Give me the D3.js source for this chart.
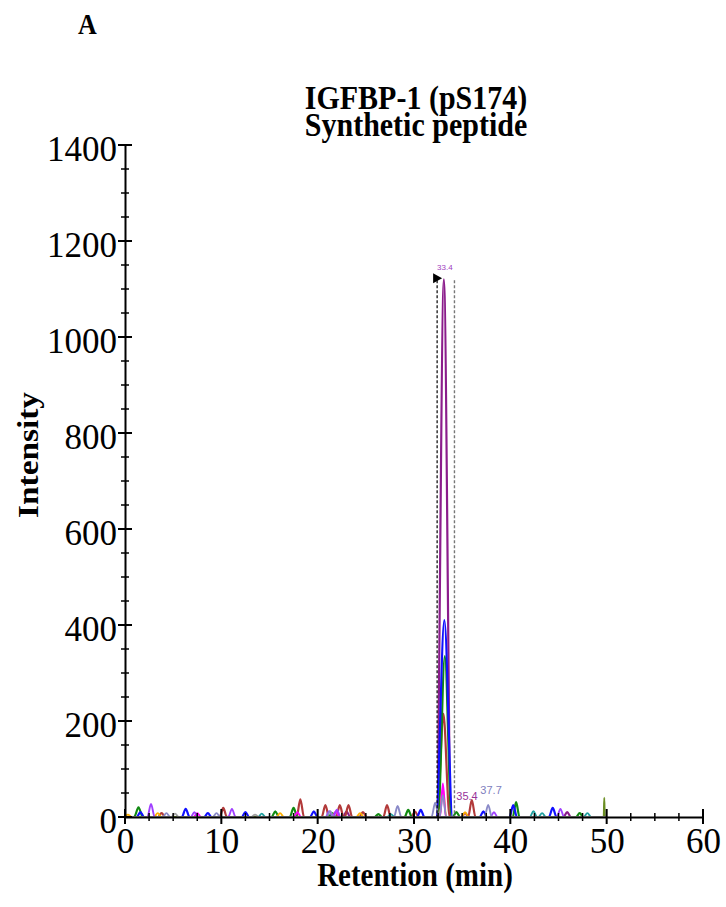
<!DOCTYPE html>
<html><head><meta charset="utf-8">
<script src="https://cdn.jsdelivr.net/npm/d3@7"></script>
<style>body{margin:0;background:#fff}svg{display:block}</style>
</head><body><svg id="c" width="726" height="907"></svg>
<script>
// ---- data: peaks as [retention (min), intensity, half-width (min)] ----
const purplePeaks   = [[33.1,1120,0.75],[23.0,12,0.38],[35.3,8,0.38],[45.9,10,0.38]];
const bluePeaks     = [[33.15,410,0.85],[1.6,10,0.38],[6.3,17,0.4],[8.6,8,0.38],[12.5,10,0.38],[19.6,12,0.38],[30.7,15,0.38],[37.2,12,0.38],[40.3,25,0.38],[44.4,19,0.4]];
const greenPeaks    = [[33.2,335,0.7],[1.4,20,0.45],[15.6,12,0.38],[17.5,19,0.4],[21.5,8,0.38],[26.3,6,0.38],[29.4,15,0.38],[34.4,10,0.38],[40.6,31,0.35],[47.2,8,0.38]];
const brownPeaks    = [[33.05,215,0.65],[3.8,8,0.38],[10.2,19,0.38],[18.2,37,0.38],[20.8,25,0.38],[22.3,25,0.38],[23.2,25,0.38],[24.7,10,0.38],[27.2,25,0.38],[30.1,12,0.38],[36.0,35,0.38]];
const orangePeaks   = [[33.0,60,0.35],[0.3,5,0.38],[3.4,8,0.38],[16.1,8,0.38],[24.4,8,0.38],[35.3,10,0.38]];
const magentaPeaks  = [[33.0,70,0.3],[7.5,8,0.38],[17.9,10,0.38],[21.9,12,0.38]];
const violetPeaks   = [[2.7,27,0.38],[7.2,10,0.38],[11.1,17,0.38],[21.2,12,0.38],[22.0,15,0.38],[38.3,10,0.38],[45.2,17,0.38]];
const lavenderPeaks = [[33.0,45,0.35],[4.3,8,0.38],[9.5,8,0.38],[21.3,12,0.38],[28.3,23,0.38],[32.2,30,0.38],[37.7,25,0.38]];
const tealPeaks     = [[14.2,7,0.38],[27.6,6,0.38],[42.4,12,0.38],[43.3,8,0.38],[48.0,8,0.38]];
const olivePeaks    = [[49.75,40,0.06]];
const greyPeaks     = [[5.2,7,0.38],[13.5,5,0.38]];

const seriesNames  = ["purple","brown","green","blue","orange","magenta","violet","lavender","teal","olive","grey"];
const seriesColors = ["#8b1c8b","#b23a3a","#118a11","#1010ff","#ffb000","#ff00ff","#a040ff","#8a8ac8","#20a0a0","#6b8e23","#a0a0a0"];
const seriesPeaks  = [purplePeaks,brownPeaks,greenPeaks,bluePeaks,orangePeaks,magentaPeaks,violetPeaks,lavenderPeaks,tealPeaks,olivePeaks,greyPeaks];

const xTicks = [0,10,20,30,40,50,60];
const yTicks = [0,200,400,600,800,1000,1200,1400];
const peakLabels = [["33.4",33.2,1140,"#a040c0"],["35.4",35.5,36,"#993399"],["37.7",38.0,48,"#8080c0"]];
const windowStart = 32.4, windowEnd = 34.2, windowTop = 1118;
const runEnd = 50;

// ---- drawing ----
const svg = d3.select("#c");
const x = d3.scaleLinear().domain([0,60]).range([125,703]);
const y = d3.scaleLinear().domain([0,1400]).range([817,145]);
const serif = "'Liberation Serif','Times New Roman',serif";

function tallText(cx, by, size, txt, anchor){
  svg.append("text").attr("transform",`translate(${cx},${by}) scale(1,1.15)`)
    .attr("text-anchor",anchor||"middle").attr("font-family",serif)
    .attr("font-weight","bold").attr("font-size",size).text(txt);
}
tallText(78,34,26,"A","start");
tallText(416,109,30,"IGFBP-1 (pS174)");
tallText(416,136,30,"Synthetic peptide");
tallText(415,886,29,"Retention (min)");
svg.append("text").attr("transform","translate(38,455) rotate(-90) scale(1.15,1)").attr("text-anchor","middle")
  .attr("font-family",serif).attr("font-weight","bold").attr("font-size",29).text("Intensity");

// traces
const line = d3.line().x(d=>x(d[0])).y(d=>y(d[1])).curve(d3.curveMonotoneX);
seriesPeaks.forEach((peaks,i)=>{
  const pts = [[0,0]];
  peaks.slice().sort((a,b)=>a[0]-b[0]).forEach(p=>{
    pts.push([p[0]-p[2],0],[p[0],p[1]],[p[0]+p[2],0]);
  });
  pts.push([runEnd,0]);
  svg.append("path").datum(pts).attr("d",line).attr("fill","none")
    .attr("stroke",seriesColors[i]).attr("stroke-width",i<4?2.2:1.9)
    .attr("class","trace-"+seriesNames[i]);
});

// integration window
svg.append("line").attr("x1",x(windowStart)).attr("x2",x(windowStart)).attr("y1",y(windowTop)).attr("y2",y(0))
  .attr("stroke","#000").attr("stroke-width",1.2).attr("stroke-dasharray","3,2");
svg.append("line").attr("x1",x(windowEnd)).attr("x2",x(windowEnd)).attr("y1",y(windowTop)).attr("y2",y(0))
  .attr("stroke","#777").attr("stroke-width",1.4).attr("stroke-dasharray","3,2");
const tx = x(windowStart), ty = y(windowTop)-2;
svg.append("path").attr("d",`M${tx-4},${ty-5}L${tx+5},${ty}L${tx-4},${ty+5}Z`).attr("fill","#000");

peakLabels.forEach(l=>{
  svg.append("text").attr("x",x(l[1])).attr("y",y(l[2])).attr("text-anchor","middle")
    .attr("font-family","'Liberation Sans',Arial,sans-serif").attr("font-size",l[0]==="33.4"?8:11)
    .attr("fill",l[3]).text(l[0]);
});

// axes
const yAxis = svg.append("g").attr("transform",`translate(${x(0)},0)`)
  .call(d3.axisLeft(y).tickValues(yTicks).tickSize(0).tickPadding(8).tickFormat(d3.format("d")));
yAxis.select(".domain").attr("stroke","#000").attr("stroke-width",2);
yAxis.selectAll("text").attr("font-family",serif).attr("font-size",35).attr("fill","#000")
  .attr("x",-8).attr("dy","0.45em");
yAxis.selectAll(".tick line").remove();
yAxis.selectAll("line.mj").data(yTicks).enter().append("line")
  .attr("x1",-7).attr("x2",7).attr("y1",d=>y(d)).attr("y2",d=>y(d)).attr("stroke","#000").attr("stroke-width",2);
yAxis.selectAll("line.mn").data(d3.range(50,1400,50).filter(v=>v%200)).enter().append("line")
  .attr("x1",-4).attr("x2",4).attr("y1",d=>y(d)).attr("y2",d=>y(d)).attr("stroke","#000").attr("stroke-width",1.5);

const xAxis = svg.append("g").attr("transform",`translate(0,${y(0)})`)
  .call(d3.axisBottom(x).tickValues(xTicks).tickSize(0).tickPadding(14).tickFormat(d3.format("d")));
xAxis.select(".domain").attr("stroke","#000").attr("stroke-width",2);
xAxis.selectAll("text").attr("font-family",serif).attr("font-size",35).attr("fill","#000")
  .attr("y",36).attr("dy",null);
xAxis.selectAll(".tick line").remove();
xAxis.selectAll("line.mj").data(xTicks).enter().append("line")
  .attr("y1",-8).attr("y2",7).attr("x1",d=>x(d)).attr("x2",d=>x(d)).attr("stroke","#000").attr("stroke-width",2);
xAxis.selectAll("line.mn").data(d3.range(2.5,60,2.5).filter(v=>v%10)).enter().append("line")
  .attr("y1",-4).attr("y2",4).attr("x1",d=>x(d)).attr("x2",d=>x(d)).attr("stroke","#000").attr("stroke-width",1.5);
</script></body></html>
